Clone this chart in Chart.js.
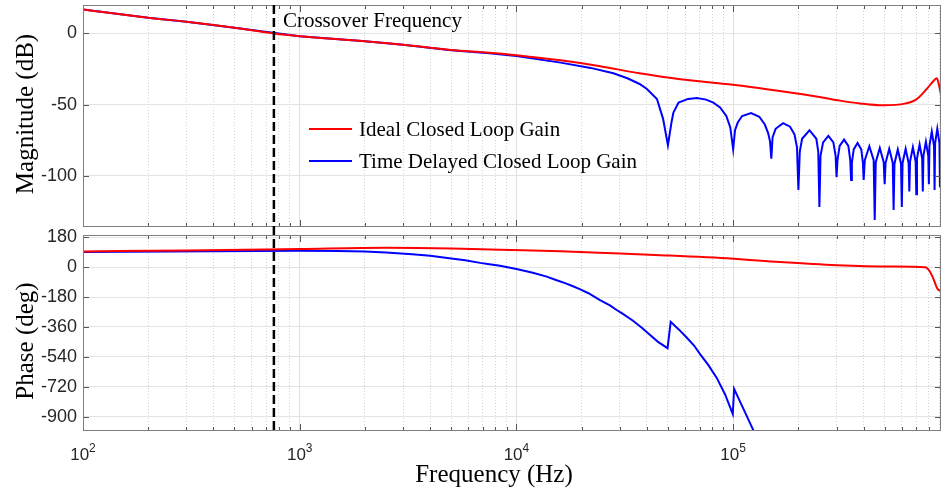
<!DOCTYPE html>
<html>
<head>
<meta charset="utf-8">
<title>Closed loop gain Bode plot</title>
<script src="https://cdn.jsdelivr.net/npm/chart.js@4.4.0/dist/chart.umd.min.js"></script>
<style>
  html, body { margin: 0; padding: 0; background: #fff; }
  #wrap { position: relative; width: 944px; height: 491px; }
  .panel { position: absolute; left: 0; width: 944px; }
  #magBox { top: 0; height: 232px; }
  #phaseBox { top: 220px; height: 271px; }
</style>
</head>
<body>
<div id="wrap">
  <div class="panel" id="magBox"><canvas id="magChart"></canvas></div>
  <div class="panel" id="phaseBox"><canvas id="phaseChart"></canvas></div>
</div>
<script>
// frequency axis (Hz)
const freqMin = 100;
const freqMax = 910000;
const decades = [100, 1000, 10000, 100000];
const crossoverFreq = 760;

// y ticks
const magTicks = [-100, -50, 0];
const phaseTicks = [180, 0, -180, -360, -540, -720, -900];

const seriesLabels = ["Ideal Closed Loop Gain", "Time Delayed Closed Loop Gain"];
const seriesColors = ["#ff0000", "#0000ff"];

// ideal loop: magnitude (dB)
const idealMagFreq = [100, 200, 300, 500, 760, 1000, 2000, 3000, 5000, 7500, 10000,
  16000, 24000, 37000, 57000, 100000, 164000, 250000, 311000, 385000, 490000,
  620000, 700000, 780000, 840000, 870000, 890000, 910000];
const idealMag = [16.9, 11.0, 8.2, 4.0, 0, -1.9, -5.4, -7.9, -11.7, -13.5, -15.3,
  -18.9, -22.9, -28.0, -32.2, -36.0, -40.4, -44.6, -47.2, -49.2, -50.5,
  -49.3, -46.3, -39.2, -33.4, -31.5, -36.0, -43.0];

// delayed loop: magnitude (dB), notches every 50 kHz
const delayMagFreq = [100, 200, 300, 500, 1000, 2000, 3000, 5000, 7500, 10000,
  16000, 22000, 28000, 32500, 37000, 40000, 44500, 47500,
  50000, 52000, 53000, 56000, 62000, 68000, 75000, 81000, 87000, 93000, 97000,
  100000, 102000, 105000, 110000, 121000, 132000, 140000, 145000, 148000,
  150000, 152000, 157000, 170000, 183000, 192000, 197000,
  200000, 203000, 208000, 225000, 242000, 247000,
  250000, 253000, 260000, 275000, 290000, 297000,
  300000, 303000, 310000, 325000, 340000, 347000,
  350000, 353000, 360000, 375000, 390000, 397000,
  400000, 405000, 425000, 445000,
  450000, 455000, 475000, 495000,
  500000, 505000, 525000, 545000,
  550000, 555000, 575000, 595000,
  600000, 605000, 625000, 645000,
  650000, 655000, 675000, 695000,
  700000, 705000, 725000, 745000,
  750000, 755000, 775000, 795000,
  800000, 805000, 825000, 845000,
  850000, 855000, 875000, 895000,
  900000, 905000, 910000];
const delayMag = [16.9, 11.0, 8.2, 4.0, -1.9, -5.4, -7.9, -11.8, -13.9, -15.9,
  -20.5, -24.2, -28.0, -31.5, -35.5, -39.0, -46.0, -60.0,
  -78.5, -62.0, -55.6, -48.6, -46.0, -45.4, -46.5, -48.6, -52.0, -58.0, -66.0,
  -81.5, -68.0, -62.6, -58.0, -56.0, -58.5, -64.0, -70.0, -76.0,
  -88.0, -73.0, -67.0, -63.0, -65.5, -71.0, -80.0,
  -110.0, -83.0, -74.0, -68.0, -74.0, -83.0,
  -122.0, -86.0, -76.5, -72.0, -76.5, -86.0,
  -101.0, -89.0, -79.0, -74.6, -79.0, -89.0,
  -103.0, -91.0, -81.5, -77.0, -81.5, -91.0,
  -103.0, -89.0, -79.3, -89.0,
  -131.0, -90.5, -80.5, -90.5,
  -106.0, -91.0, -81.0, -91.0,
  -124.0, -91.5, -81.5, -91.5,
  -122.0, -91.0, -81.0, -91.0,
  -111.0, -90.0, -80.0, -90.0,
  -113.0, -88.0, -78.0, -88.0,
  -111.0, -86.0, -76.0, -86.0,
  -106.0, -79.0, -69.0, -79.0,
  -110.0, -77.0, -67.0, -77.0,
  -108.0, -84.0, -79.0];

// phase (deg)
const idealPhaseFreq = [100, 300, 1000, 2500, 5000, 8400, 16000, 24000, 49000, 100000,
  164000, 300000, 540000, 770000, 803000, 825000, 846000, 862000, 877000, 910000];
const idealPhase = [95, 101, 110, 117, 113, 105, 96, 87, 71, 51,
  31, 12, 4, 0, -20, -48, -81, -110, -131, -145];

const delayPhaseFreq = [100, 1000, 1500, 2000, 2500, 3300, 4000, 4800, 5800, 6800,
  7500, 8400, 10000, 11900, 13800, 15000, 17000, 18000, 19600, 21500, 24300,
  27000, 29000, 31000, 34500, 38000, 41000, 45000, 49800,
  51500, 56400, 61000, 66000, 70500, 77000, 84000, 91800, 99600,
  101000, 111000, 124000, 130000];
const delayPhase = [92, 99, 97, 95, 89, 78, 69, 55, 42, 26,
  18, 9, -11, -33, -57, -74, -99, -112, -132, -157, -198,
  -230, -258, -281, -323, -366, -404, -450, -488,
  -329, -378, -424, -472, -525, -592, -667, -767, -885,
  -733, -848, -983, -1040];

const serif = '"Liberation Serif", "Times New Roman", serif';
const sans = '"Liberation Sans", Arial, sans-serif';

// page offset of the phase panel canvas
const phaseTop = 220;

function pts(xs, ys) {
  return xs.map((x, i) => ({ x: x, y: ys[i] }));
}

function isDecade(ctx) {
  return ctx.tick && decades.includes(ctx.tick.value);
}

// 1..9 per decade, gives the minor grid
function freqGridTicks() {
  const out = [];
  decades.forEach(d => {
    for (let k = 1; k <= 9; k++) {
      if (d * k <= freqMax) out.push({ value: d * k });
    }
  });
  return out;
}

function freqAxis(h) {
  return {
    type: "logarithmic",
    min: freqMin,
    max: freqMax,
    afterBuildTicks: s => { s.ticks = freqGridTicks(); },
    afterFit: s => { s.height = h; s.paddingLeft = 0; s.paddingRight = 0; },
    ticks: { display: false },
    border: { display: false, dash: ctx => (isDecade(ctx) ? [] : [1, 2]) },
    grid: {
      drawTicks: false,
      lineWidth: 1,
      color: ctx => (isDecade(ctx) ? "#e0e0e0" : "#d4d4d4"),
    },
  };
}

function valueAxis(min, max, tickVals) {
  return {
    min: min,
    max: max,
    afterBuildTicks: s => { s.ticks = tickVals.map(v => ({ value: v })); },
    afterFit: s => { s.width = 83; s.paddingTop = 0; s.paddingBottom = 0; },
    ticks: {
      font: { family: sans, size: 18 },
      color: "#262626",
      padding: 6,
      callback: v => String(v),
    },
    border: { display: false },
    grid: { drawTicks: false, color: "#e3e3e3" },
  };
}

// box, inward tick marks and the dashed crossover marker
function drawFrame(chart, dashFrom, dashTo, dashOffset) {
  const { ctx, chartArea: a, scales } = chart;
  const x = scales.x, y = scales.y;
  ctx.save();
  ctx.strokeStyle = "#555";
  ctx.lineWidth = 1;
  ctx.beginPath();
  x.ticks.forEach(t => {
    const px = Math.round(x.getPixelForValue(t.value)) + 0.5;
    const len = decades.includes(t.value) ? 7 : 4;
    ctx.moveTo(px, a.top); ctx.lineTo(px, a.top + len);
    ctx.moveTo(px, a.bottom); ctx.lineTo(px, a.bottom - len);
  });
  y.ticks.forEach(t => {
    const py = Math.round(y.getPixelForValue(t.value)) + 0.5;
    ctx.moveTo(a.left, py); ctx.lineTo(a.left + 6, py);
    ctx.moveTo(a.right, py); ctx.lineTo(a.right - 6, py);
  });
  ctx.stroke();
  ctx.strokeStyle = "#808080";
  ctx.strokeRect(a.left + 0.5, a.top + 0.5, a.right - a.left - 1, a.bottom - a.top - 1);

  const cx = x.getPixelForValue(crossoverFreq);
  ctx.strokeStyle = "#000";
  ctx.lineWidth = 2.5;
  ctx.setLineDash([9, 4]);
  ctx.lineDashOffset = dashOffset;
  ctx.beginPath();
  ctx.moveTo(cx, dashFrom);
  ctx.lineTo(cx, dashTo);
  ctx.stroke();
  ctx.restore();
  return cx;
}

function verticalTitle(ctx, text, cx, cy) {
  ctx.save();
  ctx.translate(cx, cy);
  ctx.rotate(-Math.PI / 2);
  ctx.font = "25px " + serif;
  ctx.fillStyle = "#000";
  ctx.textAlign = "center";
  ctx.textBaseline = "middle";
  ctx.fillText(text, 0, 0);
  ctx.restore();
}

const magExtras = {
  id: "magExtras",
  afterDraw(chart) {
    const ctx = chart.ctx;
    const a = chart.chartArea;
    const cx = drawFrame(chart, a.top, chart.height, 0);
    ctx.save();
    ctx.fillStyle = "#000";
    ctx.font = "21px " + serif;
    ctx.textAlign = "left";
    ctx.textBaseline = "alphabetic";
    ctx.fillText("Crossover Frequency", cx + 9, 27);

    // legend
    const rows = [129, 161];
    chart.data.datasets.forEach((ds, i) => {
      ctx.strokeStyle = ds.borderColor;
      ctx.lineWidth = 2;
      ctx.beginPath();
      ctx.moveTo(309, rows[i]);
      ctx.lineTo(352, rows[i]);
      ctx.stroke();
      ctx.textBaseline = "middle";
      ctx.fillText(ds.label, 359, rows[i] + 1);
    });
    ctx.restore();
    verticalTitle(ctx, "Magnitude (dB)", 26, 114);
  },
};

const phaseExtras = {
  id: "phaseExtras",
  afterDraw(chart) {
    const ctx = chart.ctx;
    const a = chart.chartArea;
    drawFrame(chart, 232 - phaseTop, a.bottom, 232 - 5);
    const x = chart.scales.x;
    ctx.save();
    ctx.fillStyle = "#262626";
    ctx.textAlign = "left";
    ctx.textBaseline = "alphabetic";
    decades.forEach(d => {
      const px = x.getPixelForValue(d);
      const exp = String(Math.round(Math.log10(d)));
      ctx.font = "17px " + sans;
      const wBase = ctx.measureText("10").width;
      ctx.font = "12px " + sans;
      const wExp = ctx.measureText(exp).width;
      const left = px - (wBase + wExp) / 2;
      ctx.font = "17px " + sans;
      ctx.fillText("10", left, 460 - phaseTop);
      ctx.font = "12px " + sans;
      ctx.fillText(exp, left + wBase, 452 - phaseTop);
    });
    ctx.fillStyle = "#000";
    ctx.font = "25px " + serif;
    ctx.textAlign = "center";
    ctx.fillText("Frequency (Hz)", 494, 482 - phaseTop);
    ctx.restore();
    verticalTitle(ctx, "Phase (deg)", 26, 341 - phaseTop);
  },
};

function baseOptions(xHeight, padTop, yAxis) {
  return {
    responsive: true,
    maintainAspectRatio: false,
    animation: false,
    layout: { padding: { top: padTop, right: 3, left: 0, bottom: 0 } },
    elements: { point: { radius: 0 }, line: { borderWidth: 2, tension: 0 } },
    plugins: { legend: { display: false }, tooltip: { enabled: false } },
    scales: { x: freqAxis(xHeight), y: yAxis },
  };
}

new Chart(document.getElementById("magChart"), {
  type: "line",
  data: {
    datasets: [
      { label: seriesLabels[0], data: pts(idealMagFreq, idealMag), borderColor: seriesColors[0], cubicInterpolationMode: "monotone" },
      { label: seriesLabels[1], data: pts(delayMagFreq, delayMag), borderColor: seriesColors[1] },
    ],
  },
  options: baseOptions(5, 5, valueAxis(-136, 20, magTicks)),
  plugins: [magExtras],
});

new Chart(document.getElementById("phaseChart"), {
  type: "line",
  data: {
    datasets: [
      { label: seriesLabels[0], data: pts(idealPhaseFreq, idealPhase), borderColor: seriesColors[0], cubicInterpolationMode: "monotone" },
      { label: seriesLabels[1], data: pts(delayPhaseFreq, delayPhase), borderColor: seriesColors[1] },
    ],
  },
  options: baseOptions(60, 235 - phaseTop, valueAxis(-987, 194, phaseTicks)),
  plugins: [phaseExtras],
});
</script>
</body>
</html>
